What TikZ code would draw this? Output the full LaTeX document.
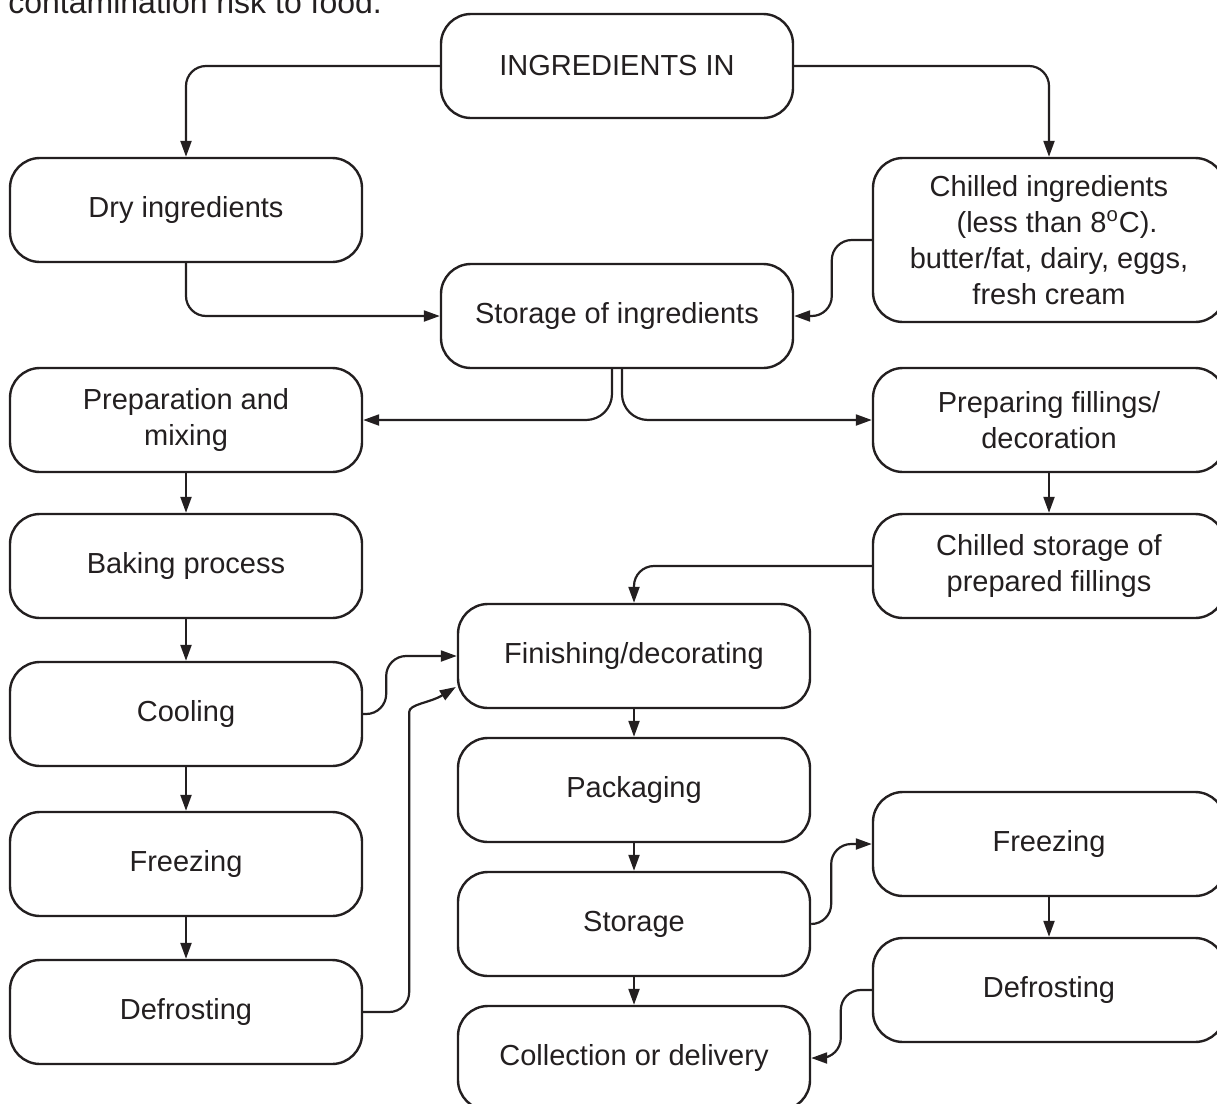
\documentclass[tikz,border=0pt]{standalone}
\usepackage{fontspec}
\setmainfont{Liberation Sans}
\usepackage{tikz}
\definecolor{flowLine}{HTML}{231F20}
\usetikzlibrary{positioning,arrows.meta,calc}

\begin{document}
\begin{tikzpicture}[x=0.5pt,y=-0.5pt, box/.style={draw=flowLine,line width=1.2pt,rounded corners=15pt,align=center,minimum width=176pt,minimum height=52pt,inner sep=2pt,font=\fontsize{14.5}{18}\selectfont,text=flowLine}, link/.style={->,draw=flowLine,line width=1.1pt,rounded corners=10pt}, >={Triangle[length=8pt,width=5.5pt]}]
\useasboundingbox (0,0) rectangle (1217,1104);
\clip (0,0) rectangle (1217,1104);
\node[anchor=base west,inner sep=0pt,font=\fontsize{16}{19}\selectfont,text=flowLine] (note) at (8,13) {contamination risk to food.};
\node[box] (top) at (617,66) {INGREDIENTS IN};
\node[box] (dry) at (186,210) {Dry ingredients};
\node[box,minimum height=82pt] (chill) at (1049,240) {Chilled ingredients\\\ \ (less than 8\textsuperscript{o}C).\\butter/fat, dairy, eggs,\\fresh cream};
\node[box] (store) at (617,316) {Storage of ingredients};
\node[box] (prep) at (186,420) {Preparation and\\mixing};
\node[box] (fill) at (1049,420) {Preparing fillings/\\decoration};
\node[box] (bake) at (186,566) {Baking process};
\node[box] (chst) at (1049,566) {Chilled storage of\\prepared fillings};
\node[box] (fin) at (634,656) {Finishing/decorating};
\node[box] (cool) at (186,714) {Cooling};
\node[box] (pack) at (634,790) {Packaging};
\node[box] (frzL) at (186,864) {Freezing};
\node[box] (frzR) at (1049,844) {Freezing};
\node[box] (stor) at (634,924) {Storage};
\node[box] (defL) at (186,1012) {Defrosting};
\node[box] (defR) at (1049,990) {Defrosting};
\node[box] (coll) at (634,1058) {Collection or delivery};
\draw[link] (top.west) -| (dry.north);\draw[link] (top.east) -| (chill.north);
\draw[link] (dry.south) |- (store.west);\draw[link] (chill.west) -- ++(-40,0) |- (store.east);
\draw[link,rounded corners=13pt] ($(store.south)+(-5,0)$) |- (prep.east);\draw[link,rounded corners=13pt] ($(store.south)+(5,0)$) |- (fill.east -| fill.west);
\draw[link] (prep) -- (bake);\draw[link] (bake) -- (cool);\draw[link] (cool) -- (frzL);\draw[link] (frzL) -- (defL);
\draw[link] (fill) -- (chst);\draw[link] (chst.west) -| (fin.north);
\draw[link] (cool.east) -- ++(23,0) |- (fin.west);
\draw[link] (defL.east) -- ++(46,0) -- ++(0,-280) .. controls ++(0,-28) and ++(-26,16) .. ($(fin.west)+(-1,31)$);
\draw[link] (fin) -- (pack);\draw[link] (pack) -- (stor);\draw[link] (stor) -- (coll);
\draw[link] (stor.east) -- ++(20,0) |- (frzR.west);\draw[link] (frzR) -- (defR);
\draw[link] (defR.west) -- ++(-31,0) |- (coll.east);
\end{tikzpicture}
\end{document}
